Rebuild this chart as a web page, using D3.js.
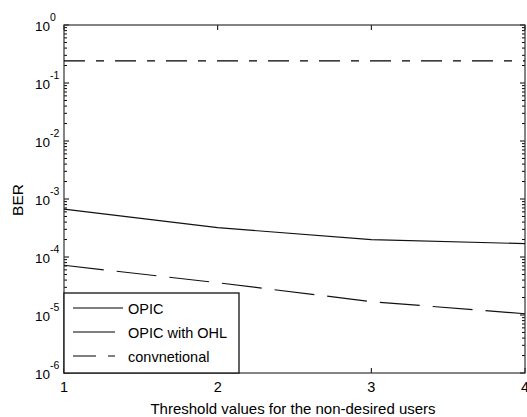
<!DOCTYPE html>
<html>
<head>
<meta charset="utf-8">
<script src="https://cdn.jsdelivr.net/npm/d3@7"></script>
<style>
  body { margin: 0; background: #fff; }
  text { font-family: "Liberation Sans", Arial, sans-serif; fill: #000; }
</style>
</head>
<body>
<div id="chart"></div>
<script>
// Data
let thresholds = [1, 2, 3, 4];
let berOpic = [6.7e-4, 3.2e-4, 2.0e-4, 1.7e-4];
let berConventional = [7.2e-5, 3.6e-5, 1.7e-5, 1.05e-5];
let berTop = [0.24, 0.24, 0.24, 0.24];
let decades = [0, -1, -2, -3, -4, -5, -6];
let legendNames = ["OPIC", "OPIC with OHL", "convnetional"];

let width = 527, height = 417;
let margin = {left: 64, right: 1, top: 25, bottom: 44};

let xScale = d3.scaleLinear().domain([1, 4]).range([margin.left, width - margin.right - 1]);
let yScale = d3.scaleLog().domain([1e-6, 1]).range([height - margin.bottom, margin.top]);

let svg = d3.select("#chart").append("svg")
  .attr("width", width)
  .attr("height", height);

let x0 = xScale.range()[0], x1 = xScale.range()[1];
let y0 = yScale.range()[0], y1 = yScale.range()[1];

// tick marks, drawn inward on all four sides
let ticks = svg.append("g").attr("stroke", "#000").attr("stroke-width", 1);
thresholds.forEach(function(t) {
  ticks.append("line").attr("x1", xScale(t)).attr("x2", xScale(t)).attr("y1", y0).attr("y2", y0 - 5);
  ticks.append("line").attr("x1", xScale(t)).attr("x2", xScale(t)).attr("y1", y1).attr("y2", y1 + 5);
});
decades.forEach(function(e) {
  for (let m = 1; m <= 9; m++) {
    let v = m * Math.pow(10, e);
    if (v > 1 || (e == 0 && m > 1)) continue;
    let y = yScale(v);
    let len = m == 1 ? 5 : 3;
    ticks.append("line").attr("x1", x0).attr("x2", x0 + len).attr("y1", y).attr("y2", y);
    ticks.append("line").attr("x1", x1).attr("x2", x1 - len).attr("y1", y).attr("y2", y);
  }
});

// frame
svg.append("rect")
  .attr("x", x0).attr("y", y1)
  .attr("width", x1 - x0).attr("height", y0 - y1)
  .attr("fill", "none").attr("stroke", "#333").attr("stroke-width", 1.2);

// y tick labels 10^e
decades.forEach(function(e) {
  let t = svg.append("text")
    .attr("x", 35).attr("y", yScale(Math.pow(10, e)) + 6)
    .attr("font-size", 13.5);
  t.append("tspan").text("10");
  t.append("tspan").attr("dy", -10).attr("font-size", 10.5).text(e);
});

// x tick labels
svg.selectAll(".xlab").data(thresholds).enter().append("text")
  .attr("x", d => xScale(d)).attr("y", y0 + 19)
  .attr("text-anchor", "middle")
  .attr("font-size", 14.5)
  .text(d => d);

svg.append("text")
  .attr("x", 293).attr("y", 414)
  .attr("text-anchor", "middle")
  .attr("font-size", 15)
  .text("Threshold values for the non-desired users");

svg.append("text")
  .attr("transform", "translate(23,200) rotate(-90)")
  .attr("text-anchor", "middle")
  .attr("font-size", 15.5)
  .text("BER");

// curves
let line = d3.line().x((d, i) => xScale(thresholds[i])).y(d => yScale(d));

svg.append("path").datum(berTop)
  .attr("d", line).attr("fill", "none").attr("stroke", "#000")
  .attr("stroke-width", 1.3).attr("stroke-dasharray", "21,11,8,11");
svg.append("path").datum(berOpic)
  .attr("d", line).attr("fill", "none").attr("stroke", "#111")
  .attr("stroke-width", 1.2);
svg.append("path").datum(berConventional)
  .attr("d", line).attr("fill", "none").attr("stroke", "#111")
  .attr("stroke-width", 1.2).attr("stroke-dasharray", "40,13");

// legend
let lg = svg.append("g");
lg.append("rect")
  .attr("x", x0).attr("y", 293)
  .attr("width", 175).attr("height", y0 - 293)
  .attr("fill", "#fff").attr("stroke", "#111").attr("stroke-width", 1.3);
let sampleEnd = [123, 115, 115];
let sampleDash = [null, null, "23,12"];
legendNames.forEach(function(name, i) {
  let y = 308 + i * 24;
  lg.append("line")
    .attr("x1", 73).attr("x2", sampleEnd[i]).attr("y1", y).attr("y2", y)
    .attr("stroke", "#000").attr("stroke-width", 1.2)
    .attr("stroke-dasharray", sampleDash[i]);
  lg.append("text")
    .attr("x", 128).attr("y", y + 6)
    .attr("font-size", 14.5)
    .text(name);
});
</script>
</body>
</html>
